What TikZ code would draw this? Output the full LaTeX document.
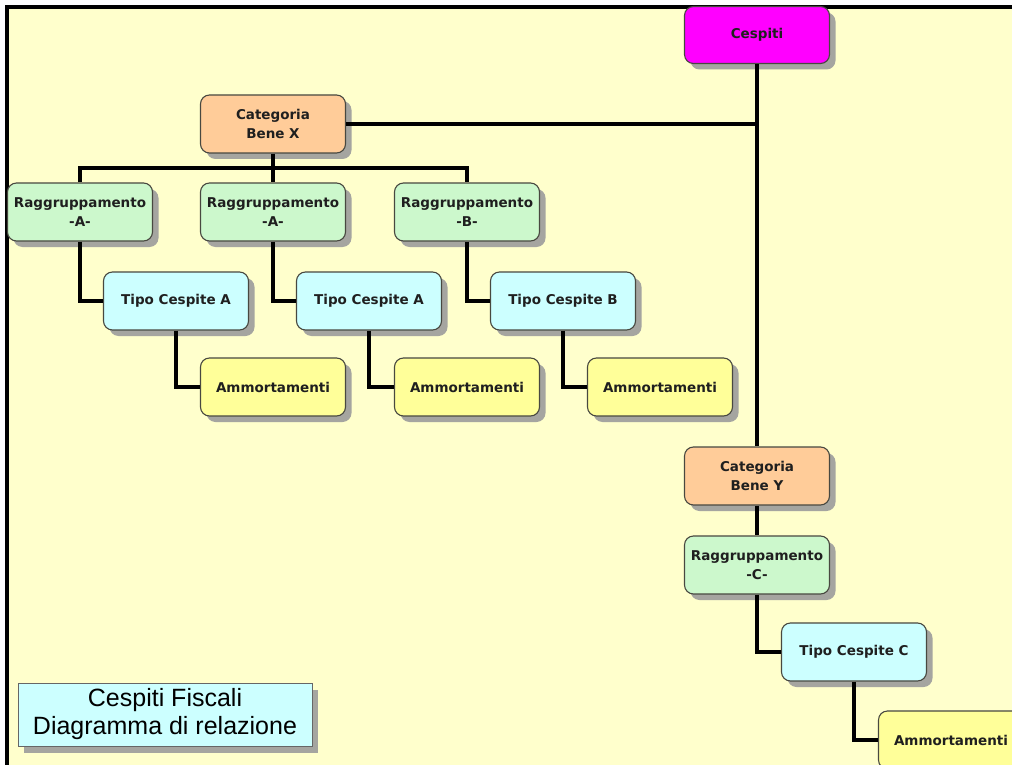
\documentclass[tikz,border=0pt]{standalone}
\usepackage{fontspec}
\setmainfont{DejaVu Sans}
\newfontfamily\legfont{Liberation Sans}
\usetikzlibrary{shadows}
\definecolor{bgyellow}{HTML}{FFFFCC}
\definecolor{cmag}{HTML}{FF00FF}
\definecolor{cpeach}{HTML}{FFCC99}
\definecolor{cgreen}{HTML}{CCF8CC}
\definecolor{ccyan}{HTML}{CCFFFF}
\definecolor{cyel}{HTML}{FFFF99}
\definecolor{cshadow}{RGB}{165,165,160}
\definecolor{cborder}{HTML}{484840}
\tikzset{
  box/.style={draw=cborder, line width=1.1pt, rounded corners=9pt,
    minimum width=145pt, minimum height=58pt, inner sep=0pt, align=center,
    font=\fontsize{13.5}{19}\selectfont\bfseries, text=black!88,
    drop shadow={shadow xshift=6pt, shadow yshift=-6pt, fill=cshadow, opacity=1}},
  rootbox/.style={box, fill=cmag},
  catbox/.style={box, fill=cpeach},
  ragbox/.style={box, fill=cgreen},
  tipobox/.style={box, fill=ccyan},
  ammbox/.style={box, fill=cyel},
  legbox/.style={draw=gray!80!black, line width=0.9pt, fill=ccyan,
    minimum width=294pt, minimum height=63pt, inner sep=0pt, align=center,
    font=\legfont\fontsize{25}{28}\selectfont,
    drop shadow={shadow xshift=6pt, shadow yshift=-7pt, fill=cshadow, opacity=1}},
  conn/.style={line width=3.6pt, black}
}
\begin{document}
\begin{tikzpicture}[x=1pt,y=-1pt]
\useasboundingbox (0,0) rectangle (1012,765);
\clip (0,0) rectangle (1012,765);
\fill[white] (0,0) rectangle (1012,765);
\fill[bgyellow] (7,7) rectangle (1012,765);
\draw[line width=3.5pt, black] (7,766) -- (7,7) -- (1013,7);

\node[rootbox, minimum height=57pt] (cesp) at (757,35) {Cespiti};
\node[catbox] (catx) at (273,124) {Categoria\\Bene X};
\node[ragbox] (r1) at (80,212) {Raggruppamento\\-A-};
\node[ragbox] (r2) at (273,212) {Raggruppamento\\-A-};
\node[ragbox] (r3) at (467,212) {Raggruppamento\\-B-};
\node[tipobox] (t1) at (176,301) {Tipo Cespite A};
\node[tipobox] (t2) at (369,301) {Tipo Cespite A};
\node[tipobox] (t3) at (563,301) {Tipo Cespite B};
\node[ammbox] (a1) at (273,387) {Ammortamenti};
\node[ammbox] (a2) at (467,387) {Ammortamenti};
\node[ammbox] (a3) at (660,387) {Ammortamenti};
\node[catbox] (caty) at (757,476) {Categoria\\Bene Y};
\node[ragbox] (r4) at (757,565) {Raggruppamento\\-C-};
\node[tipobox] (t4) at (854,652) {Tipo Cespite C};
\node[ammbox] (a4) at (951,740) {Ammortamenti};
\node[legbox] (leg) at (165,714.5) {Cespiti Fiscali\\Diagramma di relazione};

\coordinate (bus) at (0,168);
\draw[conn] (cesp.south) -- (caty.north);
\draw[conn] (catx.east) -- (catx.east -| cesp.south);
\draw[conn] (catx.south) -- (r2.north);
\draw[conn] (r1.north) -- (r1.north |- bus) -- (r3.north |- bus) -- (r3.north);
\draw[conn] (r1.south) |- (t1.west);
\draw[conn] (r2.south) |- (t2.west);
\draw[conn] (r3.south) |- (t3.west);
\draw[conn] (t1.south) |- (a1.west);
\draw[conn] (t2.south) |- (a2.west);
\draw[conn] (t3.south) |- (a3.west);
\draw[conn] (caty.south) -- (r4.north);
\draw[conn] (r4.south) |- (t4.west);
\draw[conn] (t4.south) |- (a4.west);
\end{tikzpicture}
\end{document}
